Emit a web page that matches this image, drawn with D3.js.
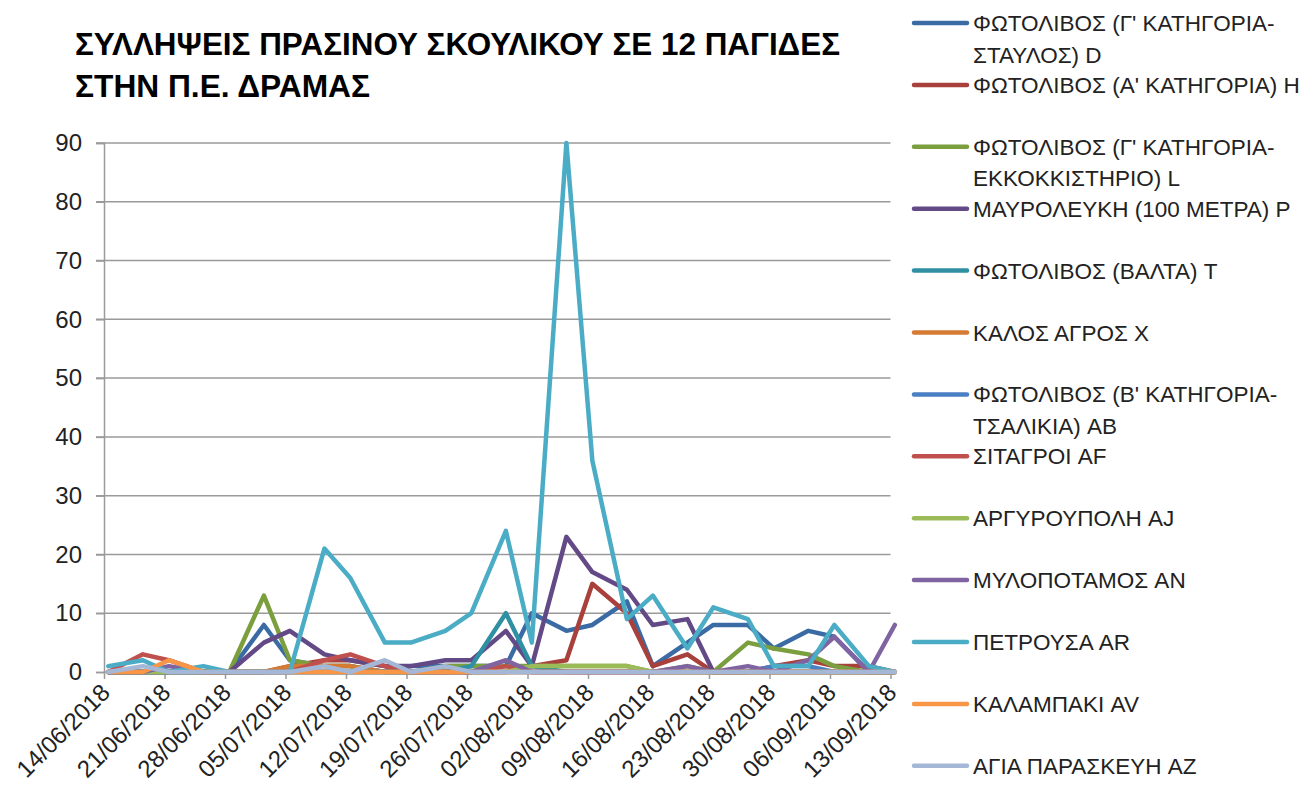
<!DOCTYPE html>
<html><head><meta charset="utf-8">
<script src="https://cdn.jsdelivr.net/npm/d3@7/dist/d3.min.js"></script>
<style>
html,body{margin:0;padding:0;background:#fff;}
svg{display:block;font-family:"Liberation Sans",Arial,sans-serif;}
</style></head>
<body>
<svg id="c" width="1311" height="812"></svg>
<script>
const title = ["ΣΥΛΛΗΨΕΙΣ ΠΡΑΣΙΝΟΥ ΣΚΟΥΛΙΚΟΥ ΣΕ 12 ΠΑΓΙΔΕΣ", "ΣΤΗΝ Π.Ε. ΔΡΑΜΑΣ"];

const dates = ["14/06/2018","18/06/2018","21/06/2018","25/06/2018","28/06/2018","02/07/2018","05/07/2018",
  "09/07/2018","12/07/2018","16/07/2018","19/07/2018","23/07/2018","26/07/2018","30/07/2018","02/08/2018",
  "06/08/2018","09/08/2018","13/08/2018","16/08/2018","20/08/2018","23/08/2018","27/08/2018","30/08/2018",
  "03/09/2018","06/09/2018","10/09/2018","13/09/2018"];

const tickLabels = ["14/06/2018","21/06/2018","28/06/2018","05/07/2018","12/07/2018","19/07/2018","26/07/2018",
  "02/08/2018","09/08/2018","16/08/2018","23/08/2018","30/08/2018","06/09/2018","13/09/2018"];

const yTicks = [0,10,20,30,40,50,60,70,80,90];

const seriesNames = [
  ["ΦΩΤΟΛΙΒΟΣ (Γ' ΚΑΤΗΓΟΡΙΑ-","ΣΤΑΥΛΟΣ) D"],
  ["ΦΩΤΟΛΙΒΟΣ (Α' ΚΑΤΗΓΟΡΙΑ) Η"],
  ["ΦΩΤΟΛΙΒΟΣ (Γ' ΚΑΤΗΓΟΡΙΑ-","ΕΚΚΟΚΚΙΣΤΗΡΙΟ) L"],
  ["ΜΑΥΡΟΛΕΥΚΗ (100 ΜΕΤΡΑ) P"],
  ["ΦΩΤΟΛΙΒΟΣ (ΒΑΛΤΑ)  T"],
  ["ΚΑΛΟΣ ΑΓΡΟΣ X"],
  ["ΦΩΤΟΛΙΒΟΣ (Β' ΚΑΤΗΓΟΡΙΑ-","ΤΣΑΛΙΚΙΑ) AB"],
  ["ΣΙΤΑΓΡΟΙ AF"],
  ["ΑΡΓΥΡΟΥΠΟΛΗ AJ"],
  ["ΜΥΛΟΠΟΤΑΜΟΣ AN"],
  ["ΠΕΤΡΟΥΣΑ AR"],
  ["ΚΑΛΑΜΠΑΚΙ AV"],
  ["ΑΓΙΑ ΠΑΡΑΣΚΕΥΗ AZ"]
];

const colors = ["#3A6BA5","#A8403C","#7B9E3E","#634A86","#2F8FA3","#D57B34","#4A7FC4",
  "#C0504D","#9BBB59","#8064A2","#4BACC6","#F79646","#A4B7D7"];

// values per date (27 dates)
const sD  = [0,0,0,0,0,8,2,1,1,0,1,1,1,1,10,7,8,12,1,5,8,8,4,7,6,0,0];
const sH  = [0,0,0,0,0,0,1,2,2,1,0,0,0,0,1,2,15,10,1,3,0,0,1,2,1,1,0];
const sL  = [0,0,0,0,0,13,2,1,1,0,0,1,1,1,1,1,1,1,0,1,0,5,4,3,1,0,0];
const sP  = [0,0,0,0,0,5,7,3,2,1,1,2,2,7,1,23,17,14,8,9,0,0,0,0,0,0,0];
const sT  = [0,0,0,0,0,0,0,0,0,0,0,0,1,10,1,0,0,0,0,0,0,0,0,0,0,0,0];
const sX  = [0,0,0,0,0,0,1,1,1,0,0,0,0,0,0,0,0,0,0,0,0,0,0,0,0,0,0];
const sAB = [0,0,0,0,0,0,0,0,0,0,0,0,0,0,0,0,0,0,0,0,0,0,1,1,0,0,0];
const sAF = [0,3,2,0,0,0,0,2,3,1,0,0,0,1,0,0,0,0,0,0,0,0,0,0,0,0,0];
const sAJ = [0,0,0,0,0,0,0,0,0,0,0,0,0,0,1,1,1,1,0,0,0,0,0,0,0,0,0];
const sAN = [0,0,1,0,0,0,0,0,0,0,0,0,0,2,0,0,0,0,0,1,0,1,0,2,6,0,8];
const sAR = [1,2,0,1,0,0,0,21,16,5,5,7,10,24,5,90,36,9,13,4,11,9,1,1,8,1,0];
const sAV = [0,0,2,0,0,0,0,0,0,0,0,0,0,0,0,0,0,0,0,0,0,0,0,0,0,0,0];
const sAZ = [0,1,0,0,0,0,0,1,0,2,0,1,0,0,0,0,0,0,0,0,0,0,0,0,0,0,0];

const allSeries = [sD,sH,sL,sP,sT,sX,sAB,sAF,sAJ,sAN,sAR,sAV,sAZ];

const parse = d3.timeParse("%d/%m/%Y");
const svg = d3.select("#c");

const x = d3.scaleTime().domain([parse(tickLabels[0]), parse(tickLabels[tickLabels.length-1])]).range([104, 890.5]);
const y = d3.scaleLinear().domain([0, 90]).range([672, 143]);

const grid = "#9A9A9A";

// gridlines
svg.append("g").selectAll("line").data(yTicks.filter(v=>v>0)).join("line")
  .attr("x1", 96).attr("x2", x.range()[1]).attr("y1", d=>y(d)).attr("y2", d=>y(d))
  .attr("stroke", grid).attr("stroke-width", 1.5);

// y axis
const yAxis = d3.axisLeft(y).tickValues(yTicks).tickSize(8).tickPadding(14).tickFormat(d3.format("d"));
const gy = svg.append("g").attr("transform","translate(104,0)").call(yAxis);
gy.selectAll("path,line").attr("stroke", grid).attr("stroke-width",1.5);
gy.selectAll("text").attr("font-size", 24).attr("fill","#222").attr("font-family","Liberation Sans, Arial, sans-serif");

// x axis
const xAxis = d3.axisBottom(x).tickValues(tickLabels.map(parse)).tickSize(7).tickFormat(d3.timeFormat("%d/%m/%Y"));
const gx = svg.append("g").attr("transform","translate(0,672)").call(xAxis);
gx.select("path").attr("stroke", grid).attr("stroke-width",1.5).attr("d", `M104,0H${x.range()[1]+2}`);
gx.selectAll("line").attr("stroke", grid).attr("stroke-width",1.5);
gx.selectAll("text").attr("font-size", 24).attr("fill","#222")
  .attr("font-family","Liberation Sans, Arial, sans-serif")
  .attr("text-anchor","end").attr("dy",null).attr("y",0)
  .attr("transform","translate(7,22) rotate(-45)");

// lines
const line = d3.line()
  .x((v,i)=> x(d3.timeHour.offset(parse(dates[i]), 12)))
  .y(v=> y(v));
svg.append("g").selectAll("path").data(allSeries).join("path")
  .attr("d", d=>line(d))
  .attr("fill","none")
  .attr("stroke",(d,i)=>colors[i])
  .attr("stroke-width",4.5)
  .attr("stroke-linejoin","round")
  .attr("stroke-linecap","round");

// title
svg.append("g").selectAll("text").data(title).join("text")
  .attr("x",75).attr("y",(d,i)=>55+i*42)
  .attr("font-size",31).attr("font-weight","bold").attr("fill","#000")
  .attr("textLength",(d,i)=> i===0 ? 765 : 295)
  .attr("lengthAdjust","spacingAndGlyphs")
  .text(d=>d);

// legend
const lg = svg.append("g");
seriesNames.forEach((nm,i)=>{
  const cy = 23 + i*61.9;
  lg.append("line").attr("x1",914).attr("x2",967).attr("y1",cy).attr("y2",cy)
    .attr("stroke",colors[i]).attr("stroke-width",4.5).attr("stroke-linecap","round");
  nm.forEach((t,j)=>{
    lg.append("text").attr("x",973).attr("y",cy+8+j*31.5)
      .attr("font-size",22.5).attr("fill","#222").text(t);
  });
});
</script>
</body></html>
